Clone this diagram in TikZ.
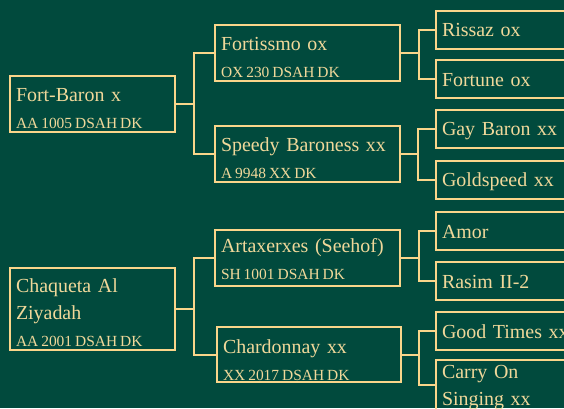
\documentclass[tikz,border=0pt]{standalone}
\usepackage{fontspec}
\setmainfont{Liberation Serif}
\definecolor{bg}{RGB}{1,74,61}
\definecolor{gold}{RGB}{250,213,138}
\definecolor{cream}{RGB}{240,216,154}
\newcommand{\nm}{\fontsize{20}{27}\selectfont}
\newcommand{\rg}{\fontsize{15.5}{21}\selectfont}
\newcommand{\nmb}{\fontsize{20}{26}\selectfont}
\newcommand{\NL}[1]{\nm\mbox{#1}}
\newcommand{\RL}[1]{\rg\mbox{\spaceskip=3bp\relax #1}}
\tikzset{
  pbox/.style={draw=gold, line width=2bp, anchor=north west, inner xsep=6bp,
    inner ysep=0pt, align=left, text=cream, font=\nm},
  colA/.style={pbox, minimum width=165bp, text width=153bp},
  colB/.style={pbox, minimum width=185bp, text width=173bp},
  colC/.style={pbox, minimum width=158bp, text width=146bp},
  conn/.style={draw=gold, line width=2bp}
}
\begin{document}
\begin{tikzpicture}[x=1bp,y=-1bp]
\useasboundingbox (0,0) rectangle (564,408);
\clip (0,0) rectangle (564,408);
\fill[bg] (0,0) rectangle (564,408);

% left column
\node[colA, minimum height=56bp, text height=25.7bp, text depth=30.3bp] (fb) at (9,75)
  {\NL{Fort-Baron x}\\\RL{AA 1005 DSAH DK}};
\node[colA, minimum height=82bp, text height=24.3bp, text depth=57.7bp] (cz) at (9,267)
  {\NL{Chaqueta Al}\\\NL{Ziyadah}\\\RL{AA 2001 DSAH DK}};

% middle column
\node[colB, minimum height=56bp, text height=25.9bp, text depth=30.1bp] (fo) at (214,24)
  {\NL{Fortissmo ox}\\\RL{OX 230 DSAH DK}};
\node[colB, minimum height=56bp, text height=25.7bp, text depth=30.3bp] (sb) at (214,125)
  {\NL{Speedy Baroness xx}\\\RL{A 9948 XX DK}};
\node[colB, minimum height=56bp, text height=23bp, text depth=33bp] (ar) at (214,228.5)
  {\NL{Artaxerxes (Seehof)}\\\RL{SH 1001 DSAH DK}};
\node[colB, minimum width=184bp, text width=172bp, minimum height=55bp, text height=26.3bp, text depth=28.7bp] (ch) at (216,326)
  {\NL{Chardonnay xx}\\\RL{XX 2017 DSAH DK}};

% right column
\node[colC, minimum height=38bp, text height=25.5bp, text depth=12.5bp] (ri) at (435,10) {\NL{Rissaz ox}};
\node[colC, minimum height=38bp, text height=26.7bp, text depth=11.3bp] (ft) at (435,59) {\NL{Fortune ox}};
\node[colC, minimum height=38bp, text height=25.3bp, text depth=12.7bp] (gb) at (435,109) {\NL{Gay Baron xx}};
\node[colC, minimum height=38bp, text height=25.7bp, text depth=12.3bp] (gs) at (435,160) {\NL{Goldspeed xx}};
\node[colC, minimum height=38bp, text height=26.3bp, text depth=11.7bp] (am) at (435,211) {\NL{Amor}};
\node[colC, minimum height=38bp, text height=26.3bp, text depth=11.7bp] (ra) at (435,261) {\NL{Rasim II-2}};
\node[colC, minimum height=38bp, text height=26bp, text depth=12bp] (gt) at (435,311) {\NL{Good Times xx}};
\node[colC, minimum height=50bp, text height=18.3bp, text depth=31.7bp] (co) at (435,359)
  {\nmb\mbox{Carry On}\\\nmb\mbox{Singing xx}};

% connectors
\draw[conn] (fb.east) -- ([xshift=18bp]fb.east);
\draw[conn] (fo.west) -| ([xshift=18bp]fb.east) |- (sb.west);
\draw[conn] (cz.east) -- ([xshift=18bp]cz.east);
\draw[conn] (ar.west) -| ([xshift=18bp]cz.east) |- (ch.west);

\draw[conn] (fo.east) -- ([xshift=18bp]fo.east);
\draw[conn] (ri.west) -| ([xshift=18bp]fo.east) |- (ft.west);
\draw[conn] (sb.east) -- ([xshift=17bp]sb.east);
\draw[conn] (gb.west) -| ([xshift=17bp]sb.east) |- (gs.west);
\draw[conn] (ar.east) -- ([xshift=18bp]ar.east);
\draw[conn] (am.west) -| ([xshift=18bp]ar.east) |- (ra.west);
\draw[conn] (ch.east) -- ([xshift=17bp]ch.east);
\draw[conn] (gt.west) -| ([xshift=17bp]ch.east) |- (co.west);
\end{tikzpicture}
\end{document}
